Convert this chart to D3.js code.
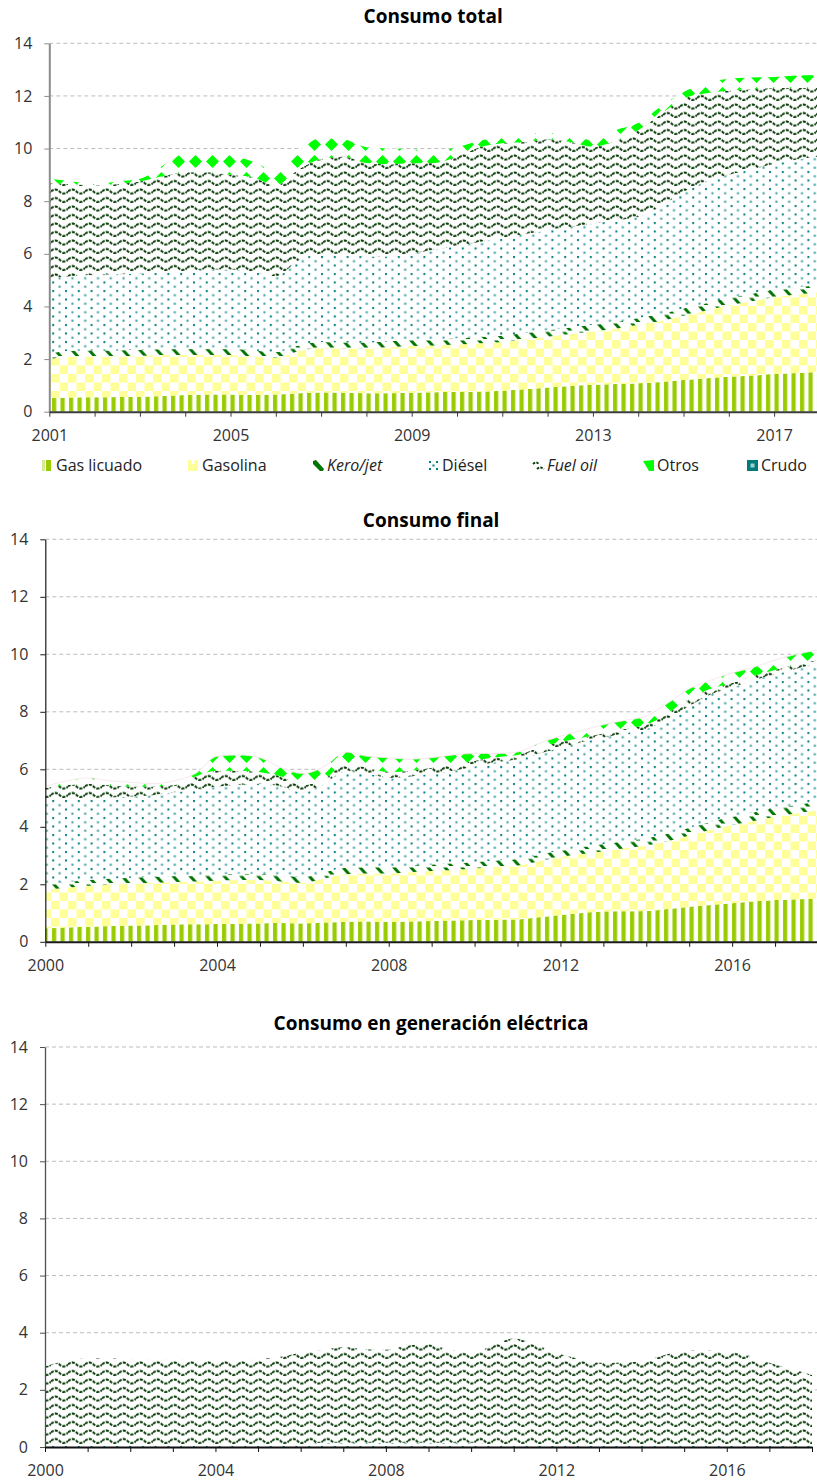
<!DOCTYPE html>
<html>
<head>
<meta charset="utf-8">
<script src="https://cdn.jsdelivr.net/npm/d3@7"></script>
<style>
  body { margin: 0; background: #fff; }
  svg { font-family: "Open Sans", sans-serif; }
</style>
</head>
<body>
<svg id="chart" width="817" height="1482"></svg>
<script>
// periods (half years)
var totalPeriods = [2001,2001.5,2002,2002.5,2003,2003.5,2004,2004.5,2005,2005.5,2006,2006.5,2007,2007.5,2008,2008.5,2009,2009.5,2010,2010.5,2011,2011.5,2012,2012.5,2013,2013.5,2014,2014.5,2015,2015.5,2016,2016.5,2017,2017.5,2018];
var periods = [2000,2000.5,2001,2001.5,2002,2002.5,2003,2003.5,2004,2004.5,2005,2005.5,2006,2006.5,2007,2007.5,2008,2008.5,2009,2009.5,2010,2010.5,2011,2011.5,2012,2012.5,2013,2013.5,2014,2014.5,2015,2015.5,2016,2016.5,2017,2017.5,2018];

var totalTickLabels = [2001, 2005, 2009, 2013, 2017];
var finalTickLabels = [2000, 2004, 2008, 2012, 2016];
var elecTickLabels = [2000, 2004, 2008, 2012, 2016];
var yTickValues = [0, 2, 4, 6, 8, 10, 12, 14];

// Consumo total
var totalGasLicuado = [0.52,0.54,0.55,0.56,0.57,0.6,0.63,0.65,0.65,0.63,0.65,0.7,0.73,0.72,0.7,0.7,0.72,0.74,0.75,0.76,0.8,0.85,0.92,0.98,1.02,1.05,1.08,1.13,1.2,1.27,1.33,1.38,1.43,1.47,1.51];
var totalGasolina = [1.48,1.56,1.55,1.54,1.55,1.55,1.52,1.5,1.5,1.47,1.4,1.6,1.69,1.68,1.7,1.75,1.78,1.78,1.8,1.84,1.85,1.9,1.93,1.97,2.03,2.1,2.22,2.32,2.45,2.58,2.72,2.82,2.92,2.98,3.04];
var totalKero = [0.22,0.22,0.23,0.23,0.23,0.23,0.24,0.24,0.24,0.23,0.22,0.22,0.23,0.23,0.23,0.23,0.23,0.23,0.24,0.24,0.24,0.24,0.25,0.25,0.25,0.25,0.26,0.26,0.27,0.27,0.28,0.28,0.28,0.28,0.28];
var totalDiesel = [2.88,2.83,2.87,2.89,2.9,2.92,2.96,3.01,3.01,2.97,2.88,3.23,3.35,3.37,3.27,3.22,3.27,3.4,3.51,3.61,3.71,3.76,3.8,3.82,3.85,3.88,3.84,4.09,4.43,4.63,4.67,4.72,4.79,4.85,4.87];
var totalFuel = [3.6,3.5,3.4,3.43,3.5,3.65,3.75,3.7,3.6,3.6,3.45,3.45,3.6,3.7,3.55,3.5,3.44,3.3,3.4,3.6,3.6,3.5,3.45,3.23,2.92,3.02,3.3,3.5,3.55,3.35,3.2,3.05,2.88,2.72,2.6];
var totalOtros = [0.15,0.1,0.05,0.1,0.1,0.4,0.7,0.7,0.75,0.6,0.55,0.7,0.8,0.65,0.6,0.6,0.53,0.45,0.35,0.25,0.25,0.3,0.25,0.2,0.26,0.4,0.27,0.3,0.25,0.4,0.45,0.45,0.42,0.48,0.5];

// Consumo final
var finalGasLicuado = [0.47,0.5,0.52,0.55,0.57,0.58,0.6,0.61,0.62,0.63,0.64,0.65,0.64,0.67,0.7,0.71,0.7,0.71,0.72,0.74,0.76,0.77,0.78,0.85,0.93,1.0,1.05,1.06,1.07,1.14,1.22,1.28,1.34,1.4,1.45,1.48,1.51];
var finalGasolina = [1.33,1.38,1.43,1.45,1.45,1.47,1.48,1.49,1.5,1.52,1.51,1.45,1.41,1.53,1.65,1.67,1.68,1.71,1.74,1.76,1.79,1.83,1.87,1.95,2.02,2.05,2.1,2.19,2.28,2.36,2.48,2.62,2.71,2.8,2.9,2.99,3.07];
var finalKero = [0.2,0.2,0.2,0.2,0.21,0.21,0.21,0.21,0.22,0.22,0.22,0.22,0.2,0.22,0.23,0.22,0.22,0.23,0.23,0.23,0.23,0.23,0.23,0.23,0.23,0.24,0.25,0.25,0.25,0.26,0.27,0.28,0.3,0.3,0.3,0.3,0.29];
var finalDiesel = [2.95,2.9,2.85,2.82,2.82,2.84,2.91,2.99,3.06,3.08,3.13,3.08,2.95,3.08,3.37,3.25,3.1,3.1,3.16,3.22,3.32,3.42,3.47,3.52,3.57,3.66,3.7,3.75,3.8,3.99,4.23,4.42,4.5,4.6,4.65,4.73,4.82];
var finalFuel = [0.4,0.47,0.5,0.43,0.35,0.3,0.25,0.45,0.55,0.5,0.4,0.35,0.25,0.15,0.25,0.2,0.2,0.2,0.2,0.2,0.2,0.17,0.15,0.2,0.2,0.15,0.15,0.15,0.15,0.2,0.25,0.2,0.15,0.15,0.15,0.15,0.11];
var finalOtros = [0.05,0.15,0.2,0.15,0.15,0.1,0.15,0.1,0.5,0.55,0.5,0.3,0.4,0.45,0.4,0.4,0.5,0.4,0.35,0.35,0.25,0.13,0.1,0.15,0.2,0.25,0.3,0.3,0.3,0.35,0.35,0.3,0.35,0.3,0.35,0.35,0.35];

// Consumo en generación eléctrica
var elecDiesel = [0.1,0.1,0.1,0.1,0.1,0.1,0.1,0.1,0.1,0.1,0.1,0.1,0.1,0.15,0.15,0.15,0.15,0.15,0.15,0.15,0.15,0.1,0.1,0.1,0.1,0.1,0.1,0.1,0.1,0.1,0.1,0.1,0.1,0.1,0.1,0.1,0.1];
var elecFuel = [2.72,2.92,3.0,3.0,2.98,2.98,2.98,2.98,2.97,2.97,2.98,3.05,3.2,3.23,3.35,3.27,3.25,3.4,3.45,3.25,3.13,3.45,3.7,3.5,3.2,3.0,2.85,2.85,2.9,3.1,3.28,3.28,3.25,3.1,2.85,2.65,2.42];

var legendNames = ["Gas licuado", "Gasolina", "Kero/jet", "Diésel", "Fuel oil", "Otros", "Crudo"];
var legendKeys = ["gl", "gas", "kero", "diesel", "fuel", "otros", "crudo"];

var svg = d3.select("#chart");
var defs = svg.append("defs");

function addPattern(id, w, h) {
  var p = defs.append("pattern")
    .attr("id", id)
    .attr("patternUnits", "userSpaceOnUse")
    .attr("width", w)
    .attr("height", h);
  p.append("rect").attr("width", w).attr("height", h).attr("fill", "#fff");
  return p;
}

// gas licuado - vertical bars
addPattern("p-gl", 8.5, 10).append("rect")
  .attr("x", 1).attr("width", 4.2).attr("height", 10).attr("fill", "#99cc00");
// gasolina - checkerboard
var pg = addPattern("p-gas", 17, 17);
pg.append("rect").attr("width", 8.5).attr("height", 8.5).attr("fill", "#ffff99");
pg.append("rect").attr("x", 8.5).attr("y", 8.5).attr("width", 8.5).attr("height", 8.5).attr("fill", "#ffff99");
// kero/jet - slanted dashes
addPattern("p-kero", 17, 8.5).append("polygon")
  .attr("points", "1,0.5 5,0.5 11.5,7.5 7.5,7.5").attr("fill", "#007300");
// diesel - dots
var pd = addPattern("p-diesel", 12.8, 8.5);
pd.append("rect").attr("x", 1).attr("y", 1).attr("width", 2).attr("height", 2).attr("fill", "#008080");
pd.append("rect").attr("x", 7.4).attr("y", 5.25).attr("width", 2).attr("height", 2).attr("fill", "#2f9898");
// fuel oil - waves
addPattern("p-fuel", 17, 8.5).append("path")
  .attr("d", "M0,4.5 Q4.25,0.5 8.5,4.5 T17,4.5")
  .attr("fill", "none").attr("stroke", "#0d3f0d")
  .attr("stroke-width", 2).attr("stroke-dasharray", "3.2,1.1");
// otros - diamonds
addPattern("p-otros", 17, 17).append("polygon")
  .attr("points", "8.5,2 15,8.5 8.5,15 2,8.5").attr("fill", "#00ff00");
// crudo
var pcr = addPattern("p-crudo", 6, 6);
pcr.append("rect").attr("width", 6).attr("height", 6).attr("fill", "#007a7a");
pcr.append("rect").attr("x", 2).attr("y", 2).attr("width", 2).attr("height", 2).attr("fill", "#9fd0d0");

var panels = [
  {
    title: "Consumo total", titleY: 23,
    periods: totalPeriods, tickLabels: totalTickLabels,
    series: [
      {key: "gl", values: totalGasLicuado},
      {key: "gas", values: totalGasolina},
      {key: "kero", values: totalKero},
      {key: "diesel", values: totalDiesel},
      {key: "fuel", values: totalFuel},
      {key: "otros", values: totalOtros}
    ],
    left: 49.3, right: 819.4, top: 43.3, bottom: 411.7,
    yAxisColor: "#8c8c8c", yAxisWidth: 2, xAxisColor: "#3c3c3c", topLine: false
  },
  {
    title: "Consumo final", titleY: 527,
    periods: periods, tickLabels: finalTickLabels,
    series: [
      {key: "gl", values: finalGasLicuado},
      {key: "gas", values: finalGasolina},
      {key: "kero", values: finalKero},
      {key: "diesel", values: finalDiesel},
      {key: "fuel", values: finalFuel},
      {key: "otros", values: finalOtros}
    ],
    left: 45.3, right: 818, top: 539.3, bottom: 941.8,
    yAxisColor: "#1a1a1a", yAxisWidth: 1.2, xAxisColor: "#1a1a1a", topLine: true
  },
  {
    title: "Consumo en generación eléctrica", titleY: 1030,
    periods: periods, tickLabels: elecTickLabels,
    series: [
      {key: "diesel", values: elecDiesel},
      {key: "fuel", values: elecFuel}
    ],
    left: 45, right: 812, top: 1047, bottom: 1447,
    yAxisColor: "#505050", yAxisWidth: 1.3, xAxisColor: "#111", topLine: false
  }
];

function drawPanel(cfg, idx) {
  var g = svg.append("g").attr("class", "panel");
  var first = cfg.periods[0], last = cfg.periods[cfg.periods.length - 1];

  var x = d3.scaleLinear().domain([first, last]).range([cfg.left, cfg.right]);
  var y = d3.scaleLinear().domain([0, 14]).range([cfg.bottom, cfg.top]);

  // gridlines
  g.append("g").selectAll("line")
    .data(yTickValues.slice(1))
    .join("line")
      .attr("x1", cfg.left).attr("x2", 817)
      .attr("y1", function(d) { return y(d); })
      .attr("y2", function(d) { return y(d); })
      .attr("stroke", "#bdbdbd")
      .attr("stroke-dasharray", "4,3");

  // stacked areas
  var rows = cfg.periods.map(function(t, i) {
    var r = {t: t};
    cfg.series.forEach(function(s) { r[s.key] = s.values[i]; });
    return r;
  });
  var stacked = d3.stack().keys(cfg.series.map(function(s) { return s.key; }))(rows);

  var area = d3.area()
    .x(function(d) { return x(d.data.t); })
    .y0(function(d) { return y(d[0]); })
    .y1(function(d) { return y(d[1]); })
    .curve(d3.curveMonotoneX);

  var clipId = "clip" + idx;
  defs.append("clipPath").attr("id", clipId).append("rect")
    .attr("x", cfg.left).attr("y", cfg.top - 10)
    .attr("width", 817 - cfg.left).attr("height", cfg.bottom - cfg.top + 10);

  var layers = g.append("g").attr("clip-path", "url(#" + clipId + ")");
  layers.selectAll("path")
    .data(stacked)
    .join("path")
      .attr("d", area)
      .attr("fill", function(d) { return "url(#p-" + d.key + ")"; });

  if (cfg.topLine) {
    var topLayer = stacked[stacked.length - 1];
    layers.append("path")
      .datum(topLayer)
      .attr("fill", "none")
      .attr("stroke", "#f7e1e7")
      .attr("stroke-width", 0.8)
      .attr("d", d3.line()
        .x(function(d) { return x(d.data.t); })
        .y(function(d) { return y(d[1]); })
        .curve(d3.curveMonotoneX));
  }

  // y axis
  var yAxis = g.append("g")
    .attr("transform", "translate(" + cfg.left + ",0)")
    .call(d3.axisLeft(y).tickValues(yTickValues).tickSize(5).tickPadding(12).tickSizeOuter(0));
  yAxis.select(".domain").attr("stroke", cfg.yAxisColor).attr("stroke-width", cfg.yAxisWidth);
  yAxis.selectAll(".tick line").attr("stroke", cfg.yAxisColor);
  yAxis.selectAll("text").attr("font-size", 16).attr("fill", "#333")
    .attr("font-family", "Open Sans, sans-serif");

  // x axis: one tick per year, label every four
  var years = d3.range(Math.ceil(first), Math.floor(last) + 1);
  var xAxis = g.append("g")
    .attr("transform", "translate(0," + cfg.bottom + ")")
    .call(d3.axisBottom(x).tickValues(years).tickSize(5).tickPadding(13).tickSizeOuter(0)
      .tickFormat(function(d) { return cfg.tickLabels.indexOf(d) >= 0 ? d : ""; }));
  xAxis.select(".domain").attr("stroke", cfg.xAxisColor).attr("stroke-width", 2);
  xAxis.selectAll(".tick line").attr("stroke", cfg.xAxisColor);
  xAxis.selectAll("text").attr("font-size", 16).attr("fill", "#333")
    .attr("font-family", "Open Sans, sans-serif");

  // title
  g.append("text")
    .attr("x", (cfg.left + 817) / 2)
    .attr("y", cfg.titleY)
    .attr("text-anchor", "middle")
    .attr("font-size", 19)
    .attr("font-weight", "bold")
    .attr("fill", "#000")
    .text(cfg.title);
}

panels.forEach(drawPanel);

// legend (under the first panel)
var legendX = [42, 188, 313, 428, 533, 643, 747];
var legend = svg.append("g").attr("transform", "translate(0,460)");

var items = legend.selectAll("g")
  .data(legendNames)
  .join("g")
    .attr("transform", function(d, i) { return "translate(" + legendX[i] + ",0)"; });

items.each(function(d, i) {
  var it = d3.select(this);
  var key = legendKeys[i];
  if (key === "gl") {
    it.append("rect").attr("width", 3).attr("height", 11).attr("fill", "#d6e99a");
    it.append("rect").attr("x", 4).attr("width", 5).attr("height", 11).attr("fill", "#99cc00");
  } else if (key === "gas") {
    it.append("rect").attr("width", 10).attr("height", 11).attr("fill", "#ffff99");
    it.append("rect").attr("x", 3.5).attr("width", 3).attr("height", 4).attr("fill", "#fff");
  } else if (key === "kero") {
    it.append("polygon").attr("points", "0,1 3,0 11,9 10,11 7,11 0,4").attr("fill", "#007300");
  } else if (key === "diesel") {
    [[1,1],[8,1],[4.5,4.5],[1,8],[8,8]].forEach(function(p) {
      it.append("rect").attr("x", p[0]).attr("y", p[1]).attr("width", 2).attr("height", 2).attr("fill", "#008080");
    });
  } else if (key === "fuel") {
    it.append("path").attr("d", "M0,4 Q3,1 6,4 M4,9 Q7,6 11,9")
      .attr("fill", "none").attr("stroke", "#0d3f0d").attr("stroke-width", 1.8).attr("stroke-dasharray", "2.5,1.2");
  } else if (key === "otros") {
    it.append("polygon").attr("points", "0,1 11,0 11,11 6,11").attr("fill", "#00ff00");
  } else {
    it.append("rect").attr("width", 11).attr("height", 11).attr("fill", "#007a7a");
    it.append("rect").attr("x", 3.5).attr("y", 3.5).attr("width", 4).attr("height", 4).attr("fill", "#9fd0d0");
  }
  it.append("text")
    .attr("x", 14)
    .attr("y", 11)
    .attr("font-size", 16)
    .attr("fill", "#222")
    .attr("font-style", (key === "kero" || key === "fuel") ? "italic" : "normal")
    .text(d);
});
</script>
</body>
</html>
